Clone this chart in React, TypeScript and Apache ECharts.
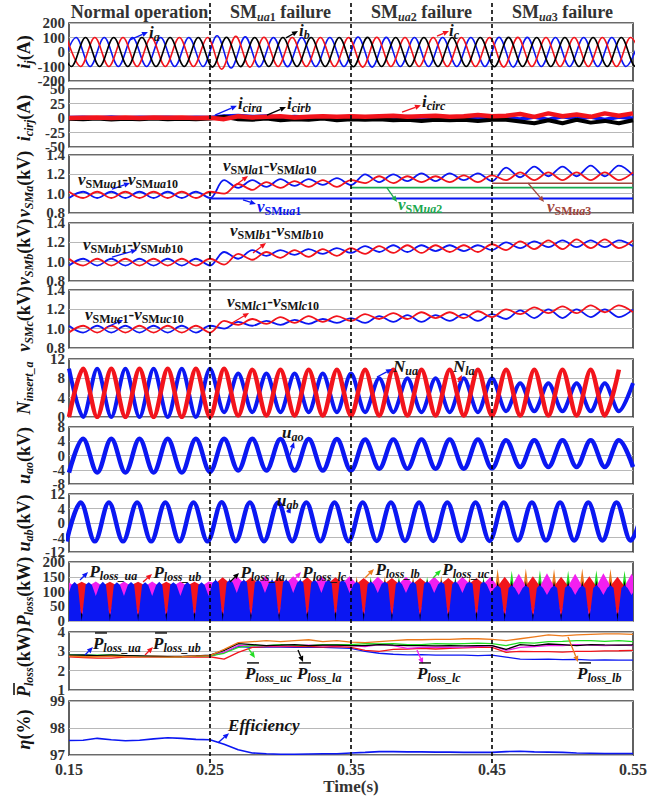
import React, { useEffect, useRef } from 'react';
import * as echarts from 'echarts';

// ---------- style constants ----------
const FONT = '"Liberation Serif", "Times New Roman", Times, serif';
const INK = '#141414';
const AXIS_INK = '#333333';
const BLUE = '#0b17f2';
const RED = '#f2141c';
const BLACK = '#000000';
const GREEN_V = '#19a84e';
const LIME = '#22dd22';
const ORANGE = '#ec7a1c';
const MAGENTA = '#f21ff0';
const BROWN = '#a0453c';

// ---------- layout ----------
const PLOT_LEFT = 69;
const PLOT_RIGHT = 29;
const PANEL_TOP = [23, 89, 155, 223, 290, 359, 427, 494, 562, 632, 701];
const PANEL_BOTTOM = [81, 147, 213, 281, 348, 417, 484, 552, 621, 690, 758];
const NAME_X = 25;
const TITLE_Y = 13;
const DASH_TOP = 3;
const DASH_BOTTOM = 764;
const TICK_LABEL_GAP = 4;

// ---------- axes / text data ----------
const X_MIN = 0.15;
const X_MAX = 0.55;
const xTickLabels = ['0.15', '0.25', '0.35', '0.45', '0.55'];
const faultTimes = [0.25, 0.35, 0.45];
const stageMid = [0.2, 0.3, 0.4, 0.5];
const stageTitles = [
  '{t|Normal operation}',
  '{t|SM}{ts|ua}{tn|1}{t| failure}',
  '{t|SM}{ts|ua}{tn|2}{t| failure}',
  '{t|SM}{ts|ua}{tn|3}{t| failure}',
];
const yNames = [
  '{bi|i}{s|j}{b|(A)}',
  '{bi|i}{s|cirj}{b|(A)}',
  '{bi|v}{s|SMa}{b|(kV)}',
  '{bi|v}{s|SMb}{b|(kV)}',
  '{bi|v}{s|SMc}{b|(kV)}',
  '{bi|N}{s|insert_a}',
  '{bi|u}{s|ao}{b|(kV)}',
  '{bi|u}{s|ab}{b|(kV)}',
  '{bi|P}{s|loss}{b|(kW)}',
  '{bi|P}{s|loss}{b|(kW)}',
  '{bi|η}{b|(%)}',
];
const uabTickValues = [-12, -6, 0, 6, 12];
const uabTickLabels = ['-12', '-4', '0', '4', '12'];

// ---------- series values ----------
// phase currents: extremes every half cycle (0.01 s)
const IA_T0 = 0.145;
const ia = [-100, 100, -100, 100, -100, 100, -100, 100, -100, 100, -100,
  112, -110, 104, -102, 100, -101, 100, -100, 100, -100,
  103, -104, 101, -100, 100, -100, 100, -100, 100, -100,
  102, -103, 101, -100, 100, -100, 100, -100, 100, -100, 100];
const IB_T0 = 0.1417;
const ib = [100, -100, 100, -100, 100, -100, 100, -100, 100, -100, 100,
  -104, 102, -101, 100, -100, 100, -100, 100, -100, 100,
  -102, 101, -100, 100, -100, 100, -100, 100, -100, 100,
  -102, 101, -100, 100, -100, 100, -100, 100, -100, 100, -100, 100];
const IC_T0 = 0.1483;
const ic = [100, -100, 100, -100, 100, -100, 100, -100, 100, -100, 100,
  -118, 108, -104, 102, -100, 100, -100, 100, -100, 100,
  -104, 102, -100, 100, -100, 100, -100, 100, -100, 100,
  -103, 101, -100, 100, -100, 100, -100, 100, -100, 100, -100];

// circulating currents, sampled every 0.01 s from 0.15 s
const icirA = [0.5, 1, 0, 1.5, 0, 1, 0.5, 1, 0, 1, 0.5,
  3, 4, 2, 3, 1, 2, 1, 2, 1, 2,
  1, 2, 0, 2, 1, 2, 0, 2, 1, 2,
  0, -2, 2, -3, 3, -2, 2, -3, 2, -1];
const icirB = [-1.5, -2, -1, -2.5, -1.5, -2, -1, -2, -1.5, -2, -1,
  2, -2, -3, -1, -4, -2, -3, -1, -4, -2,
  -3, -2, -4, -3, -5, -3, -4, -3, -5, -3,
  -3, -6, -9, -4, -9, -3, -8, -5, -9, -4];
const icirC = [0, 0.5, 1, 0, 1, 0, 1, 0.5, 1, 0, 0.5,
  -2, 3, 1, 2, 3, 1, 2, 3, 2, 3,
  2, 3, 4, 2, 3, 4, 2, 3, 5, 3,
  4, 7, 2, 8, 3, 6, 2, 8, 4, 8];

// SM capacitor voltages (kV): extremes every 0.01 s from 0.15 s
const vSMua = [0.955, 1.02, 0.955, 1.02, 0.955, 1.02, 0.955, 1.02, 0.955, 1.02, 0.955,
  1.14, 1.06, 1.14, 1.07, 1.15, 1.08, 1.15, 1.09, 1.16, 1.09,
  1.2, 1.12, 1.2, 1.13, 1.21, 1.13, 1.21, 1.14, 1.21, 1.13,
  1.27, 1.17, 1.28, 1.18, 1.28, 1.18, 1.29, 1.18, 1.29, 1.19];
const vSMla = [1.02, 0.955, 1.02, 0.955, 1.02, 0.955, 1.02, 0.955, 1.02, 0.955, 1.02,
  1.0, 1.1, 1.04, 1.12, 1.06, 1.13, 1.07, 1.14, 1.07, 1.14,
  1.11, 1.18, 1.11, 1.18, 1.12, 1.18, 1.12, 1.19, 1.12, 1.19,
  1.14, 1.22, 1.14, 1.22, 1.14, 1.22, 1.14, 1.22, 1.14, 1.22];
const vSMua1Flat = [[0.25, 0.95], [0.55, 0.95]];
const vSMua2Flat = [[0.35, 1.063], [0.55, 1.063]];
const vSMua3Flat = [[0.45, 1.107], [0.55, 1.107]];
const vSMub = [0.96, 1.03, 0.96, 1.03, 0.96, 1.03, 0.96, 1.03, 0.96, 1.03, 0.96,
  1.1, 1.03, 1.12, 1.06, 1.12, 1.07, 1.13, 1.08, 1.14, 1.09,
  1.16, 1.1, 1.17, 1.1, 1.17, 1.11, 1.17, 1.11, 1.17, 1.12,
  1.2, 1.14, 1.21, 1.15, 1.22, 1.15, 1.22, 1.15, 1.22, 1.16];
const vSMlb = [1.03, 0.96, 1.03, 0.96, 1.03, 0.96, 1.03, 0.96, 1.03, 0.96, 1.03,
  0.97, 1.08, 1.02, 1.1, 1.04, 1.12, 1.05, 1.13, 1.06, 1.14,
  1.08, 1.16, 1.09, 1.17, 1.09, 1.17, 1.1, 1.17, 1.1, 1.18,
  1.12, 1.21, 1.13, 1.22, 1.13, 1.23, 1.14, 1.23, 1.14, 1.22];
const vSMuc = [1.03, 0.96, 1.03, 0.96, 1.03, 0.96, 1.03, 0.96, 1.03, 0.96, 1.03,
  1.0, 1.07, 1.03, 1.08, 1.04, 1.09, 1.05, 1.1, 1.06, 1.11,
  1.06, 1.13, 1.07, 1.14, 1.07, 1.14, 1.08, 1.15, 1.08, 1.15,
  1.1, 1.19, 1.11, 1.2, 1.11, 1.2, 1.12, 1.2, 1.12, 1.2];
const vSMlc = [0.96, 1.03, 0.96, 1.03, 0.96, 1.03, 0.96, 1.03, 0.96, 1.03, 0.96,
  1.08, 1.04, 1.1, 1.05, 1.12, 1.06, 1.13, 1.07, 1.13, 1.08,
  1.15, 1.1, 1.16, 1.1, 1.17, 1.11, 1.17, 1.11, 1.18, 1.12,
  1.2, 1.15, 1.22, 1.16, 1.23, 1.16, 1.24, 1.17, 1.24, 1.17];

// inserted SM numbers: extremes every 0.01 s from 0.15 s
const nUa = [10, 0, 10, 0, 10, 0, 10, 0, 10, 0, 10,
  1, 9, 1, 9, 1, 9, 1, 9, 1, 9,
  1, 8, 1, 8, 1, 8, 1, 8, 1, 8,
  1.2, 7, 1.2, 7, 1.2, 7, 1.2, 7, 1.2, 7];
const nLa = [0, 10, 0, 10, 0, 10, 0, 10, 0, 10, 0,
  10, 0.3, 9.8, 0.3, 9.8, 0.3, 9.8, 0.3, 9.8, 0.3,
  9.8, 0.3, 9.8, 0.3, 9.8, 0.3, 9.8, 0.3, 9.8, 0.3,
  9.8, 0.3, 9.8, 0.3, 9.8, 0.3, 9.8, 0.3, 9.8];

// output voltages (kV): extremes every 0.01 s
const uao = [-4.8, 4.7, -4.8, 4.7, -4.8, 4.7, -4.8, 4.7, -4.8, 4.7, -4.6,
  4.7, -4.2, 4.7, -4.2, 4.6, -4.2, 4.6, -4.2, 4.6, -4.2,
  4.5, -3.7, 4.5, -3.7, 4.5, -3.7, 4.5, -3.7, 4.5, -3.6,
  4.3, -3.2, 4.3, -3.2, 4.3, -3.2, 4.3, -3.2, 4.3, -3.2];
const UAB_T0 = 0.1483;
const uab = [-7.6, 8.5, -7.6, 8.5, -7.6, 8.5, -7.6, 8.5, -7.6, 8.5, -7.6,
  8.6, -7.5, 8.5, -7.5, 8.5, -7.5, 8.5, -7.5, 8.5, -7.5,
  8.5, -7.4, 8.5, -7.4, 8.5, -7.4, 8.5, -7.4, 8.5, -7.4,
  8.5, -7.2, 8.5, -7.2, 8.5, -7.2, 8.5, -7.2, 8.5, -7.2, 8.5];

// instantaneous SM losses (kW): value at each notch (every 0.01 s from T0),
// at each tooth's shoulders and at each tooth centre
const PLOSS_T0 = 0.139;
const PLOSS_FLOOR = 0;
const PLOSS_LA_SHOULDER = 20;
const plossUaNotch = [0, 85, 0, 85, 0, 85, 0, 85, 0, 85, 0, 85,
  0, 95, 0, 95, 0, 95, 0, 95, 0, 95,
  0, 95, 0, 95, 0, 95, 0, 95, 0, 95,
  0, 88, 0, 88, 0, 88, 0, 88, 0, 88, 0];
const plossUaShoulder = [122, 122, 123, 122, 122, 123, 122, 122, 123, 122, 122,
  130, 130, 131, 130, 130, 131, 130, 130, 131, 130,
  125, 125, 126, 125, 125, 126, 125, 125, 126, 125,
  112, 112, 113, 112, 112, 113, 112, 112, 113, 112, 112];
const plossUaPeak = [131, 132, 131, 133, 131, 132, 131, 133, 131, 132, 131,
  139, 140, 139, 141, 139, 140, 139, 141, 139, 140,
  133, 134, 133, 135, 133, 134, 133, 135, 133, 134,
  120, 121, 120, 122, 120, 121, 120, 122, 120, 121, 120];
const plossLaNotch = [30, 0, 30, 0, 30, 0, 30, 0, 30, 0, 30, 0,
  32, 0, 32, 0, 32, 0, 32, 0, 32, 0,
  32, 0, 32, 0, 32, 0, 32, 0, 32, 0,
  30, 0, 30, 0, 30, 0, 30, 0, 30, 0, 30];
const plossLaPeak = [124, 125, 124, 125, 124, 125, 124, 125, 124, 125, 124,
  146, 147, 146, 148, 146, 147, 146, 148, 146, 147,
  140, 141, 140, 142, 140, 141, 140, 142, 140, 141,
  136, 137, 136, 138, 136, 137, 136, 138, 136, 137, 136];
const plossUbNotch = [133, 40, 133, 40, 133, 40, 133, 40, 133, 40, 133, 40,
  148, 40, 148, 40, 148, 40, 148, 40, 148, 40,
  146, 40, 146, 40, 146, 40, 146, 40, 146, 40,
  150, 40, 152, 40, 150, 40, 152, 40, 150, 40, 152];
const plossUbPeak = [120, 120, 121, 120, 120, 121, 120, 120, 121, 120, 120,
  128, 128, 129, 128, 128, 129, 128, 128, 129, 128,
  126, 126, 127, 126, 126, 127, 126, 126, 127, 126,
  118, 118, 119, 118, 118, 119, 118, 118, 119, 118, 118];
const plossLcNotch = [20, 134, 20, 134, 20, 134, 20, 134, 20, 134, 20, 134,
  20, 152, 20, 152, 20, 152, 20, 152, 20, 152,
  20, 150, 20, 150, 20, 150, 20, 150, 20, 150,
  20, 160, 20, 162, 20, 160, 20, 162, 20, 160, 20];
const plossLcPeak = [118, 118, 119, 118, 118, 119, 118, 118, 119, 118, 118,
  128, 128, 129, 128, 128, 129, 128, 128, 129, 128,
  126, 126, 127, 126, 126, 127, 126, 126, 127, 126,
  118, 118, 119, 118, 118, 119, 118, 118, 119, 118, 118];
const plossLbPeak = [110, 110, 110, 110, 110, 110, 110, 110, 110, 110, 110,
  144, 120, 143, 120, 144, 120, 143, 120, 144, 120,
  152, 125, 153, 125, 152, 125, 153, 125, 152, 125,
  176, 125, 178, 125, 176, 125, 178, 125, 176, 125, 177];
const plossUcPeak = [110, 110, 110, 110, 110, 110, 110, 110, 110, 110, 110,
  120, 142, 120, 141, 120, 142, 120, 141, 120, 142,
  125, 150, 125, 151, 125, 150, 125, 151, 125, 150,
  125, 170, 125, 172, 125, 170, 125, 172, 125, 170, 125];

// average losses (kW), every 0.01 s from 0.15 s
const pAvgUa = [2.8, 2.82, 2.78, 2.8, 2.76, 2.74, 2.72, 2.72, 2.72, 2.74, 2.75,
  2.95, 3.25, 3.2, 3.22, 3.22, 3.2, 3.22, 3.2, 3.18, 3.15,
  3.0, 2.9, 2.85, 2.82, 2.83, 2.8, 2.8, 2.8, 2.78, 2.8,
  2.7, 2.6, 2.58, 2.6, 2.57, 2.58, 2.55, 2.56, 2.55, 2.55];
const pAvgUb = [2.72, 2.68, 2.65, 2.65, 2.7, 2.72, 2.75, 2.72, 2.7, 2.7, 2.72,
  2.6, 2.95, 3.2, 3.25, 3.25, 3.25, 3.25, 3.22, 3.25, 3.2,
  3.05, 3.0, 3.1, 3.12, 3.15, 3.12, 3.15, 3.18, 3.2, 3.2,
  2.95, 3.0, 2.98, 2.98, 2.96, 3.0, 3.0, 3.02, 3.03, 3.05];
const pAvgLa = [2.8, 2.8, 2.78, 2.8, 2.78, 2.76, 2.74, 2.74, 2.74, 2.76, 2.8,
  3.05, 3.4, 3.35, 3.3, 3.32, 3.35, 3.3, 3.32, 3.32, 3.3,
  3.3, 3.35, 3.32, 3.3, 3.3, 3.28, 3.3, 3.28, 3.3, 3.3,
  3.1, 3.35, 3.3, 3.38, 3.35, 3.3, 3.35, 3.33, 3.32, 3.33];
const pAvgUc = [2.82, 2.8, 2.8, 2.82, 2.78, 2.75, 2.74, 2.72, 2.72, 2.74, 2.76,
  2.9, 3.2, 3.3, 3.3, 3.35, 3.32, 3.3, 3.35, 3.35, 3.35,
  3.4, 3.38, 3.4, 3.35, 3.35, 3.4, 3.38, 3.4, 3.42, 3.4,
  3.3, 3.45, 3.42, 3.5, 3.52, 3.55, 3.55, 3.52, 3.55, 3.5];
const pAvgLb = [2.75, 2.72, 2.72, 2.75, 2.72, 2.7, 2.7, 2.7, 2.72, 2.75, 2.78,
  3.1, 3.45, 3.5, 3.55, 3.5, 3.55, 3.6, 3.5, 3.55, 3.48,
  3.45, 3.5, 3.55, 3.6, 3.6, 3.62, 3.62, 3.65, 3.65, 3.62,
  3.55, 3.65, 3.75, 3.85, 3.8, 3.85, 3.88, 3.9, 3.9, 3.88];
const pAvgLc = [2.78, 2.76, 2.74, 2.75, 2.74, 2.72, 2.72, 2.72, 2.72, 2.74, 2.76,
  2.95, 3.3, 3.28, 3.3, 3.28, 3.3, 3.32, 3.3, 3.3, 3.3,
  3.25, 3.35, 3.3, 3.15, 3.2, 3.22, 3.2, 3.22, 3.25, 3.3,
  3.05, 3.2, 3.25, 3.3, 3.3, 3.35, 3.32, 3.3, 3.32, 3.3];

// efficiency (%), every 0.01 s from 0.15 s
const efficiency = [97.54, 97.55, 97.62, 97.57, 97.53, 97.55, 97.6, 97.64, 97.62, 97.58, 97.57,
  97.4, 97.2, 97.08, 97.05, 97.03, 97.03, 97.04, 97.05, 97.05, 97.08,
  97.1, 97.13, 97.13, 97.12, 97.12, 97.11, 97.11, 97.1, 97.1, 97.1,
  97.13, 97.14, 97.12, 97.11, 97.1, 97.08, 97.07, 97.06, 97.06, 97.06];

// ---------- helpers ----------
const STEP = 0.01;
const SHOULDER_DT = 0.0028;
const SPIKE_DT = 0.0006;
const r5 = (v: number) => +v.toFixed(5);
const ext = (t0: number, vals: number[]) => vals.map((v, k) => [r5(t0 + k * STEP), v]);
// notch / (shoulder) / tooth-centre samples
const wave = (t0: number, notch: number[] | number, centre: number[], shoulder?: number[] | number, sdt = SHOULDER_DT) => {
  const nv = (k: number) => (Array.isArray(notch) ? notch[k] : notch);
  const sv = (k: number) => (Array.isArray(shoulder) ? shoulder[k] : (shoulder as number));
  const out: number[][] = [[r5(t0), nv(0)]];
  centre.forEach((c, k) => {
    const tk = t0 + k * STEP;
    if (shoulder !== undefined) out.push([r5(tk + sdt), sv(k)]);
    out.push([r5(tk + STEP / 2), c]);
    if (shoulder !== undefined) out.push([r5(tk + STEP - sdt), sv(k)]);
    out.push([r5(tk + STEP), nv(k + 1)]);
  });
  return out;
};

type YSpec = { min: number; max: number; interval: number; fmt?: (v: number) => string };
const Y_SPECS: YSpec[] = [
  { min: -200, max: 200, interval: 100 },
  { min: -50, max: 50, interval: 25 },
  { min: 0.8, max: 1.4, interval: 0.2, fmt: (v) => v.toFixed(1) },
  { min: 0.8, max: 1.4, interval: 0.2, fmt: (v) => v.toFixed(1) },
  { min: 0.8, max: 1.4, interval: 0.2, fmt: (v) => v.toFixed(1) },
  { min: 0, max: 12, interval: 4 },
  { min: -8, max: 8, interval: 4 },
  { min: -12, max: 12, interval: 6, fmt: (v) => uabTickLabels[uabTickValues.indexOf(Math.round(v))] ?? '' },
  { min: 0, max: 200, interval: 50 },
  { min: 1, max: 4, interval: 1 },
  { min: 97, max: 99, interval: 1 },
];

function line(g: number, data: any[], color: string, width: number, smooth = 0) {
  return {
    type: 'line', xAxisIndex: g, yAxisIndex: g, data, symbol: 'none', showSymbol: false,
    smooth, silent: true, lineStyle: { color, width }, itemStyle: { color }, z: 2,
  };
}
// filled region with no outline (outlines would be drawn above every fill)
function area(g: number, data: any[], color: string) {
  return {
    type: 'line', xAxisIndex: g, yAxisIndex: g, data, symbol: 'none', showSymbol: false,
    silent: true, lineStyle: { width: 0, opacity: 0 }, itemStyle: { color },
    areaStyle: { color, opacity: 1 }, z: 2,
  };
}

function buildOption() {
  const grid = PANEL_TOP.map((top, i) => ({
    left: PLOT_LEFT, right: PLOT_RIGHT, top, height: PANEL_BOTTOM[i] - top,
    show: true, borderColor: '#3a3a3a', borderWidth: 1.6, backgroundColor: 'transparent',
  }));
  const xAxis = grid.map((_, i) => {
    const last = i === grid.length - 1;
    return {
      type: 'value', gridIndex: i, min: X_MIN, max: X_MAX, interval: 0.05,
      axisLine: { show: false }, axisTick: { show: false }, splitLine: { show: false },
      axisLabel: last ? {
        show: true, fontFamily: FONT, fontWeight: 'bold', fontSize: 16, color: AXIS_INK, margin: 6,
        showMinLabel: true, showMaxLabel: true,
        formatter: (v: number) => { const s = v.toFixed(2); return xTickLabels.includes(s) ? s : ''; },
      } : { show: false },
      name: last ? 'Time(s)' : '',
      nameLocation: 'middle', nameGap: 22,
      nameTextStyle: { fontFamily: FONT, fontWeight: 'bold', fontSize: 17, color: AXIS_INK },
    };
  });
  const yAxis = Y_SPECS.map((s, i) => ({
    type: 'value', gridIndex: i, min: s.min, max: s.max, interval: s.interval,
    axisLine: { show: false }, axisTick: { show: false },
    splitLine: { show: true, lineStyle: { color: '#b8b8b8', width: 1.2 } },
    axisLabel: { show: false },
  }));
  const SM = 0.35;
  const series: any[] = [
    line(0, ext(IA_T0, ia), BLUE, 1.6, SM),
    line(0, ext(IC_T0, ic), RED, 1.6, SM),
    line(0, ext(IB_T0, ib), BLACK, 1.6, SM),

    line(1, ext(0.15, icirA), BLUE, 4),
    line(1, ext(0.15, icirB), BLACK, 4),
    line(1, ext(0.15, icirC), RED, 4.5),

    line(2, vSMua1Flat, BLUE, 1.8),
    line(2, vSMua2Flat, GREEN_V, 1.8),
    line(2, vSMua3Flat, BROWN, 1.4),
    line(2, ext(0.15, vSMua), BLUE, 1.8, SM),
    line(2, ext(0.15, vSMla), RED, 1.8, SM),

    line(3, ext(0.15, vSMub), BLUE, 1.8, SM),
    line(3, ext(0.15, vSMlb), RED, 1.8, SM),

    line(4, ext(0.15, vSMuc), BLUE, 1.8, SM),
    line(4, ext(0.15, vSMlc), RED, 1.8, SM),

    line(5, ext(0.15, nUa), BLUE, 4, 0.3),
    line(5, ext(0.15, nLa), RED, 4.5, 0.3),

    line(6, ext(0.15, uao), BLUE, 4.5, SM),
    line(7, ext(UAB_T0, uab), BLUE, 4.5, SM),

    area(8, wave(PLOSS_T0, PLOSS_FLOOR, plossLbPeak), ORANGE),
    area(8, wave(PLOSS_T0, PLOSS_FLOOR, plossUcPeak), LIME),
    area(8, wave(PLOSS_T0, plossUbNotch, plossUbPeak), RED),
    area(8, wave(PLOSS_T0, plossLcNotch, plossLcPeak), MAGENTA),
    area(8, wave(PLOSS_T0, plossLaNotch, plossLaPeak, PLOSS_LA_SHOULDER, SPIKE_DT), BLACK),
    area(8, wave(PLOSS_T0, plossUaNotch, plossUaPeak, plossUaShoulder), BLUE),

    line(9, ext(0.15, pAvgUa), BLUE, 1.3),
    line(9, ext(0.15, pAvgUb), RED, 1.3),
    line(9, ext(0.15, pAvgLc), MAGENTA, 1.3),
    line(9, ext(0.15, pAvgUc), LIME, 1.3),
    line(9, ext(0.15, pAvgLa), BLACK, 1.3),
    line(9, ext(0.15, pAvgLb), ORANGE, 1.3),

    line(10, ext(0.15, efficiency), BLUE, 1.6),
  ];
  return { animation: false, backgroundColor: '#ffffff', grid, xAxis, yAxis, series };
}

// ---------- annotations (anchored in data coordinates) ----------
const vPair = (a: string) => `{bi|v}{su|SM}{s|${a}}{su|1}{b|-}{bi|v}{su|SM}{s|${a}}{su|10}`;
type Label = { g: number; x: number; y: number; t: string; c?: string; bar?: boolean };
const labels: Label[] = [
  { g: 0, x: 0.2067, y: 131, t: '{bi|i}{s|a}' },
  { g: 0, x: 0.3131, y: 138, t: '{bi|i}{s|b}' },
  { g: 0, x: 0.4195, y: 138, t: '{bi|i}{s|c}' },
  { g: 1, x: 0.2699, y: 24, t: '{bi|i}{s|cira}' },
  { g: 1, x: 0.3046, y: 24, t: '{bi|i}{s|cirb}' },
  { g: 1, x: 0.4003, y: 26, t: '{bi|i}{s|circ}' },
  { g: 2, x: 0.1564, y: 1.141, t: vPair('ua') },
  { g: 2, x: 0.2592, y: 1.286, t: vPair('la') },
  { g: 2, x: 0.2833, y: 0.862, t: '{bi|v}{su|SM}{s|ua}{su|1}', c: BLUE },
  { g: 2, x: 0.3833, y: 0.873, t: '{bi|v}{su|SM}{s|ua}{su|2}', c: GREEN_V },
  { g: 2, x: 0.4890, y: 0.862, t: '{bi|v}{su|SM}{s|ua}{su|3}', c: BROWN },
  { g: 3, x: 0.1599, y: 1.172, t: vPair('ub') },
  { g: 3, x: 0.2642, y: 1.307, t: vPair('lb') },
  { g: 4, x: 0.1613, y: 1.141, t: vPair('uc') },
  { g: 4, x: 0.2621, y: 1.266, t: vPair('lc') },
  { g: 5, x: 0.3798, y: 10.14, t: '{bi|N}{s|ua}' },
  { g: 5, x: 0.4223, y: 10.14, t: '{bi|N}{s|la}' },
  { g: 6, x: 0.3011, y: 6.04, t: '{bi|u}{s|ao}' },
  { g: 7, x: 0.2975, y: 8.69, t: '{bi|u}{s|ab}' },
  { g: 8, x: 0.1645, y: 163, t: '{bi|P}{s|loss_ua}' },
  { g: 8, x: 0.2099, y: 160, t: '{bi|P}{s|loss_ub}' },
  { g: 8, x: 0.2716, y: 160, t: '{bi|P}{s|loss_la}' },
  { g: 8, x: 0.3155, y: 160, t: '{bi|P}{s|loss_lc}' },
  { g: 8, x: 0.3673, y: 170, t: '{bi|P}{s|loss_lb}' },
  { g: 8, x: 0.4148, y: 170, t: '{bi|P}{s|loss_uc}' },
  { g: 9, x: 0.1670, y: 3.33, t: '{bi|P}{s|loss_ua}', bar: true },
  { g: 9, x: 0.2096, y: 3.33, t: '{bi|P}{s|loss_ub}', bar: true },
  { g: 9, x: 0.2748, y: 1.78, t: '{bi|P}{s|loss_uc}', bar: true },
  { g: 9, x: 0.3117, y: 1.78, t: '{bi|P}{s|loss_la}', bar: true },
  { g: 9, x: 0.3968, y: 1.78, t: '{bi|P}{s|loss_lc}', bar: true },
  { g: 9, x: 0.5103, y: 1.78, t: '{bi|P}{s|loss_lb}', bar: true },
  { g: 10, x: 0.2628, y: 98.05, t: '{bi|Efficiency}' },
];
type Arrow = { g: number; from: number[]; to: number[]; c: string };
const arrows: Arrow[] = [
  { g: 0, from: [0.1933, 83], to: [0.2060, 138], c: BLUE },
  { g: 0, from: [0.3039, 97], to: [0.3124, 145], c: BLACK },
  { g: 0, from: [0.4110, 110], to: [0.4195, 145], c: RED },
  { g: 1, from: [0.2535, 5], to: [0.2691, 21], c: BLUE },
  { g: 1, from: [0.2904, 5], to: [0.3039, 19], c: BLACK },
  { g: 1, from: [0.3862, 10], to: [0.3996, 22], c: RED },
  { g: 2, from: [0.1805, 1.048], to: [0.1933, 1.110], c: BLUE },
  { g: 2, from: [0.2663, 1.069], to: [0.2770, 1.183], c: RED },
  { g: 2, from: [0.2734, 0.935], to: [0.2826, 0.893], c: BLUE },
  { g: 2, from: [0.3755, 1.059], to: [0.3826, 0.914], c: GREEN_V },
  { g: 2, from: [0.4755, 1.110], to: [0.4869, 0.914], c: BROWN },
  { g: 3, from: [0.1805, 1.048], to: [0.1982, 1.121], c: BLUE },
  { g: 3, from: [0.2805, 1.090], to: [0.2897, 1.193], c: RED },
  { g: 4, from: [0.1770, 1.017], to: [0.1883, 1.090], c: BLUE },
  { g: 4, from: [0.2656, 1.059], to: [0.2777, 1.162], c: RED },
  { g: 5, from: [0.3684, 8.28], to: [0.3791, 9.93], c: BLUE },
  { g: 5, from: [0.4259, 7.24], to: [0.4287, 8.69], c: RED },
  { g: 6, from: [0.3067, 0.14], to: [0.3096, 3.79], c: BLUE },
  { g: 7, from: [0.3053, 4.14], to: [0.3074, 6.62], c: BLUE },
  { g: 8, from: [0.1578, 139], to: [0.1635, 166], c: BLUE },
  { g: 8, from: [0.2025, 132], to: [0.2089, 159], c: RED },
  { g: 8, from: [0.2642, 132], to: [0.2706, 163], c: BLACK },
  { g: 8, from: [0.3082, 132], to: [0.3145, 166], c: MAGENTA },
  { g: 8, from: [0.3599, 146], to: [0.3663, 176], c: ORANGE },
  { g: 8, from: [0.4082, 146], to: [0.4138, 173], c: LIME },
  { g: 9, from: [0.1613, 2.81], to: [0.1670, 3.22], c: BLUE },
  { g: 9, from: [0.2039, 2.81], to: [0.2096, 3.22], c: RED },
  { g: 9, from: [0.2770, 3.17], to: [0.2819, 2.66], c: LIME },
  { g: 9, from: [0.3124, 3.07], to: [0.3160, 2.45], c: BLACK },
  { g: 9, from: [0.3968, 3.07], to: [0.4011, 2.35], c: MAGENTA },
  { g: 9, from: [0.5039, 3.74], to: [0.5110, 2.45], c: ORANGE },
  { g: 10, from: [0.2557, 97.46], to: [0.2635, 97.81], c: BLUE },
];

function makeRich(main: number, sub: number, color: string, drop = 2) {
  const base = { fontFamily: FONT, fontWeight: 'bold', fill: color, color };
  return {
    b: { ...base, fontSize: main, padding: [0, 0, drop, 0] },
    bi: { ...base, fontSize: main, fontStyle: 'italic', padding: [0, 0, drop, 0] },
    s: { ...base, fontSize: sub, fontStyle: 'italic', verticalAlign: 'bottom' },
    su: { ...base, fontSize: sub, verticalAlign: 'bottom' },
  };
}

function textStyle(text: string, rich: any, align: string, color = INK, size = 16) {
  return {
    text, rich, fill: color, fontFamily: FONT, fontSize: size, fontWeight: 'bold',
    align, verticalAlign: 'middle', textAlign: align, textVerticalAlign: 'middle',
  };
}

function arrowEls(p0: number[], p1: number[], color: string) {
  const dx = p1[0] - p0[0];
  const dy = p1[1] - p0[1];
  const len = Math.hypot(dx, dy) || 1;
  const ux = dx / len;
  const uy = dy / len;
  const L = 6;
  const W = 2.6;
  const bx = p1[0] - ux * L;
  const by = p1[1] - uy * L;
  return [
    { type: 'line', z: 60, silent: true, shape: { x1: p0[0], y1: p0[1], x2: bx, y2: by }, style: { stroke: color, lineWidth: 1.3 } },
    { type: 'polygon', z: 60, silent: true, shape: { points: [[p1[0], p1[1]], [bx - uy * W, by + ux * W], [bx + uy * W, by - ux * W]] }, style: { fill: color } },
  ];
}

function buildGraphic(chart: any) {
  const P = (g: number, x: number, y: number) => chart.convertToPixel({ gridIndex: g }, [x, y]) as number[];
  const els: any[] = [];

  // y tick labels
  Y_SPECS.forEach((s, g) => {
    const n = Math.round((s.max - s.min) / s.interval);
    for (let k = 0; k <= n; k++) {
      const v = +(s.min + k * s.interval).toFixed(6);
      const [x, y] = P(g, X_MIN, v);
      const txt = s.fmt ? s.fmt(v) : String(v);
      els.push({
        type: 'text', x: x - TICK_LABEL_GAP, y, z: 40, silent: true,
        style: {
          text: txt, fill: AXIS_INK, fontFamily: FONT, fontSize: 15, fontWeight: 'bold',
          align: 'right', verticalAlign: 'middle', textAlign: 'right', textVerticalAlign: 'middle',
        },
      });
    }
  });

  faultTimes.forEach((t) => {
    const [x] = P(0, t, 0);
    els.push({
      type: 'line', z: 50, silent: true,
      shape: { x1: x, y1: DASH_TOP, x2: x, y2: DASH_BOTTOM },
      style: { stroke: '#000', lineWidth: 1.6, lineDash: [4, 3] },
    });
  });

  const titleRich = {
    t: { fontFamily: FONT, fontWeight: 'bold', fontSize: 18, fill: '#333', color: '#333', padding: [0, 0, 2, 0] },
    ts: { fontFamily: FONT, fontWeight: 'bold', fontStyle: 'italic', fontSize: 12, fill: '#333', color: '#333', verticalAlign: 'bottom' },
    tn: { fontFamily: FONT, fontWeight: 'bold', fontSize: 12, fill: '#333', color: '#333', verticalAlign: 'bottom' },
  };
  stageTitles.forEach((t, i) => {
    const [x] = P(0, stageMid[i], 0);
    els.push({ type: 'text', x, y: TITLE_Y, z: 70, silent: true, style: textStyle(t, titleRich, 'center', '#333', 18) });
  });

  const nameRich = makeRich(18, 12, INK, 2);
  yNames.forEach((t, i) => {
    const cy = (PANEL_TOP[i] + PANEL_BOTTOM[i]) / 2;
    const withBar = i === 9;
    const children: any[] = [{
      type: 'text', x: withBar ? -36 : 0, y: 0, silent: true,
      style: textStyle(t, nameRich, withBar ? 'left' : 'center', INK, 18),
    }];
    if (withBar) {
      children.push({ type: 'line', silent: true, shape: { x1: -34, y1: -11, x2: -22, y2: -11 }, style: { stroke: INK, lineWidth: 1.6 } });
    }
    els.push({ type: 'group', x: NAME_X, y: cy, rotation: Math.PI / 2, z: 70, children });
  });

  arrows.forEach((a) => {
    els.push(...arrowEls(P(a.g, a.from[0], a.from[1]), P(a.g, a.to[0], a.to[1]), a.c));
  });

  labels.forEach((l) => {
    const [x, y] = P(l.g, l.x, l.y);
    const color = l.c ?? INK;
    els.push({ type: 'text', x, y, z: 70, silent: true, style: textStyle(l.t, makeRich(17, 12, color, 2), 'left', color, 17) });
    if (l.bar) {
      els.push({ type: 'line', z: 70, silent: true, shape: { x1: x + 2, y1: y - 12, x2: x + 14, y2: y - 12 }, style: { stroke: INK, lineWidth: 1.5 } });
    }
  });
  return els;
}

export default function App() {
  const ref = useRef<HTMLDivElement>(null);
  useEffect(() => {
    const el = ref.current;
    if (!el) return;
    const chart = echarts.init(el, undefined, { renderer: 'svg' });
    chart.setOption(buildOption() as any);
    chart.setOption({ graphic: { elements: buildGraphic(chart) } } as any);
    return () => chart.dispose();
  }, []);
  return <div ref={ref} style={{ position: 'absolute', left: 0, top: 0, width: 662, height: 796, background: '#fff' }} />;
}
